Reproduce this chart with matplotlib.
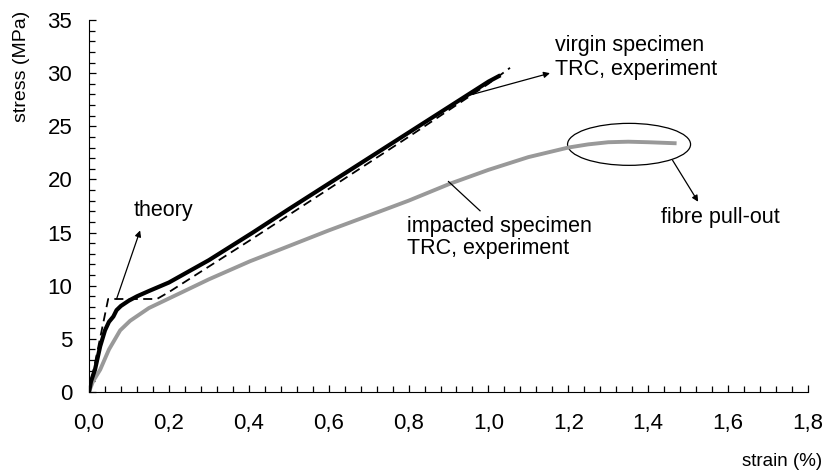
import numpy as np
import matplotlib.pyplot as plt
from matplotlib.patches import Ellipse
from matplotlib.ticker import MultipleLocator, FuncFormatter

plt.rcParams['font.family'] = ['Liberation Sans', 'DejaVu Sans']

# virgin specimen, experiment
virgin_strain = [0.0, 0.005, 0.015, 0.028, 0.04, 0.05, 0.061, 0.069, 0.08, 0.10, 0.12,
                 0.15, 0.2, 0.3, 0.41, 0.5, 0.6, 0.7, 0.8, 0.9, 1.0, 1.03]
virgin_stress = [0.0, 1.0, 2.1, 4.3, 5.8, 6.6, 7.1, 7.7, 8.1, 8.6, 9.0,
                 9.5, 10.3, 12.4, 15.0, 17.2, 19.6, 22.0, 24.4, 26.8, 29.2, 29.8]

# theory
theory_strain = [0.0, 0.048, 0.17, 0.2, 0.4, 0.6, 0.8, 1.0, 1.054]
theory_stress = [0.0, 8.75, 8.75, 9.4, 14.2, 19.1, 24.0, 29.0, 30.5]

# impacted specimen, experiment
impact_strain = [0.0, 0.01, 0.028, 0.05, 0.078, 0.103, 0.15, 0.228, 0.3, 0.403, 0.478,
                 0.6, 0.729, 0.8, 0.904, 1.0, 1.1, 1.2, 1.25, 1.3, 1.35, 1.4, 1.471]
impact_stress = [0.0, 1.0, 2.1, 4.0, 5.8, 6.7, 7.9, 9.3, 10.6, 12.3, 13.4,
                 15.2, 17.0, 18.0, 19.6, 20.9, 22.1, 23.0, 23.3, 23.5, 23.55, 23.5, 23.4]

fig = plt.figure(figsize=(8.23, 4.76), dpi=100)
ax = fig.add_axes([89/823, 84/476, 719/823, 372/476])

ax.plot(impact_strain, impact_stress, color='#999999', lw=2.8, solid_capstyle='butt')
ax.plot(virgin_strain, virgin_stress, color='black', lw=3.0, solid_capstyle='butt')
ax.plot(theory_strain, theory_stress, color='black', lw=1.3, dashes=(5, 3))

ax.add_patch(Ellipse((1.352, 23.3), 0.308, 3.95, fill=False, edgecolor='black', lw=0.9))

arrow = dict(arrowstyle='-|>', color='black', lw=0.9, mutation_scale=9, shrinkA=0, shrinkB=0)
ax.annotate('', xy=(0.128, 15.2), xytext=(0.069, 8.75), arrowprops=arrow)
ax.annotate('', xy=(1.154, 30.0), xytext=(0.95, 27.9), arrowprops=arrow)
ax.annotate('', xy=(1.525, 17.9), xytext=(1.461, 21.8), arrowprops=arrow)
ax.plot([0.9, 0.979], [19.8, 17.05], color='black', lw=0.9)

fs = 15.5
ax.text(0.111, 17.1, 'theory', fontsize=fs, va='center')
ax.text(1.167, 32.6, 'virgin specimen', fontsize=fs, va='center')
ax.text(1.167, 30.3, 'TRC, experiment', fontsize=fs, va='center')
ax.text(0.795, 15.55, 'impacted specimen', fontsize=fs, va='center')
ax.text(0.795, 13.5, 'TRC, experiment', fontsize=fs, va='center')
ax.text(1.58, 16.4, 'fibre pull-out', fontsize=fs, va='center', ha='center')

ax.set_xlim(0, 1.8)
ax.set_ylim(0, 35)
ax.spines['top'].set_visible(False)
ax.spines['right'].set_visible(False)
ax.xaxis.set_major_locator(MultipleLocator(0.2))
ax.xaxis.set_minor_locator(MultipleLocator(0.04))
ax.yaxis.set_major_locator(MultipleLocator(5))
ax.yaxis.set_minor_locator(MultipleLocator(1))
ax.xaxis.set_major_formatter(FuncFormatter(lambda v, p: f'{v:.1f}'.replace('.', ',')))
ax.tick_params(which='major', direction='in', length=5, width=0.9, labelsize=16)
ax.tick_params(which='minor', direction='in', length=4, width=0.9)
ax.tick_params(axis='x', which='major', pad=15)
ax.tick_params(axis='y', which='major', pad=12)
fig.text(22/823, 1 - 66/476, 'stress (MPa)', fontsize=14, rotation=90,
         ha='center', va='center')
ax.text(1.0 + 14/719, -70/372, 'strain (%)', transform=ax.transAxes, fontsize=13.5,
        ha='right', va='center')

fig.savefig('out.png', dpi=100)
